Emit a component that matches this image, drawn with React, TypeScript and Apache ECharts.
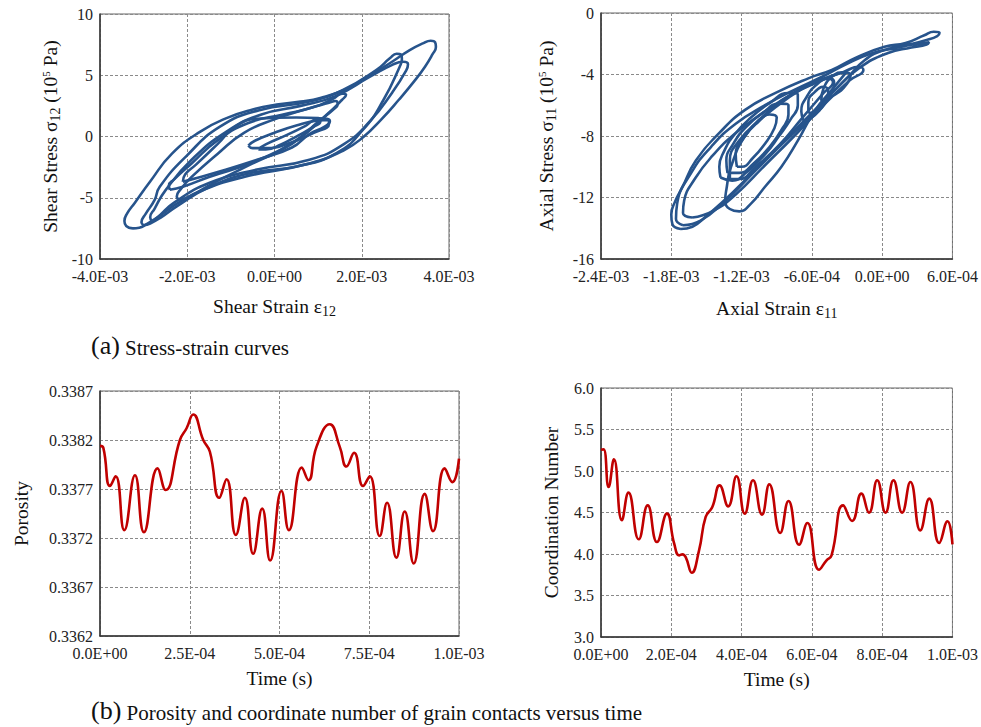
import React, { useEffect, useRef } from 'react';
import * as echarts from 'echarts';

const FONT = '"Liberation Serif", "Times New Roman", serif';
const BLUE = '#27548c';
const RED = '#c00000';
const STRAIN_UNIT = 1e-3; // loop strains below are written in units of 1E-03

// ---------- (a) shear stress-strain loops: [strain (1E-03), stress (1E5 Pa)] ----------
const shearLoop1 = [[-3.25,-7.5],[-3.4,-7.3],[-3.44,-6.9],[-3.38,-6.3],[-3.2,-5.4],[-2.85,-3.67],[-2.35,-1.4],[-1.7,0.4],[-1.1,1.5],[-0.5,2.2],[0.05,2.6],[0.6,2.85],[1.05,3.15],[1.6,3.8],[2.1,4.8],[2.65,6.0],[3.1,7.05],[3.4,7.6],[3.58,7.82],[3.68,7.7],[3.7,7.3],[3.62,6.7],[3.45,5.7],[3.2,4.5],[2.85,3.0],[2.45,1.4],[2.05,0.0],[1.6,-1.1],[0.8,-2.2],[-0.7,-3.3],[-1.6,-4.3],[-2.2,-5.4],[-2.6,-6.4],[-2.95,-7.2],[-3.1,-7.45],[-3.25,-7.5]];
const shearLoop2 = [[-3.0,-7.25],[-3.05,-7.0],[-2.95,-6.3],[-2.75,-5.2],[-2.63,-4.1],[-2.02,-1.6],[-1.25,0.8],[-0.35,2.15],[0.8,2.85],[1.57,3.8],[2.34,5.45],[2.65,6.4],[2.8,6.75],[2.9,6.7],[2.92,6.3],[2.87,5.7],[2.5,3.0],[2.03,0.55],[1.42,-1.35],[0.5,-2.45],[-0.56,-3.0],[-1.48,-4.1],[-2.24,-5.7],[-2.6,-6.6],[-2.85,-7.1],[-3.0,-7.25]];
const shearLoop3 = [[-2.8,-6.95],[-2.85,-6.6],[-2.75,-5.9],[-2.5,-4.4],[-1.9,-1.9],[-1.1,0.4],[-0.3,1.8],[0.6,2.5],[1.4,3.3],[2.2,4.9],[2.7,5.85],[2.95,6.1],[3.06,5.9],[3.02,5.4],[2.7,3.6],[2.2,1.3],[1.6,-0.6],[0.8,-1.9],[-0.4,-2.7],[-1.5,-3.8],[-2.3,-5.4],[-2.65,-6.5],[-2.8,-6.95]];
const shearLoop4 = [[-2.4,-4.35],[-2.42,-4.0],[-2.3,-3.5],[-1.9,-2.2],[-1.3,-0.3],[-0.6,1.1],[0.2,1.8],[0.9,2.4],[1.35,3.1],[1.55,3.5],[1.64,3.4],[1.55,3.0],[1.2,1.8],[0.5,-0.3],[-0.5,-2.1],[-1.5,-3.3],[-2.1,-4.1],[-2.4,-4.35]];
const shearLoop5 = [[-2.17,-5.2],[-2.24,-4.9],[-2.15,-4.3],[-1.9,-3.3],[-1.3,-1.4],[-0.7,0.3],[0.0,1.4],[0.8,2.3],[1.25,2.75],[1.4,2.9],[1.45,2.65],[1.35,2.2],[1.0,1.2],[0.4,-0.6],[-0.5,-2.2],[-1.4,-3.8],[-1.9,-4.8],[-2.17,-5.2]];
const shearLoop6 = [[-2.1,-3.7],[-2.05,-3.1],[-1.8,-2.3],[-1.3,-0.6],[-0.9,0.8],[-0.4,1.45],[0.5,1.55],[1.0,1.5],[1.27,1.25],[1.15,0.8],[0.8,0.2],[0.4,-0.9],[-0.4,-1.9],[-1.3,-2.9],[-1.9,-3.5],[-2.1,-3.7]];
const shearLoop7 = [[-0.6,-0.75],[-0.45,-0.35],[0.0,0.3],[0.5,0.9],[1.0,1.3],[1.25,1.35],[1.25,1.05],[0.9,0.3],[0.3,-0.6],[-0.2,-0.95],[-0.5,-0.95],[-0.6,-0.75]];
const shearLoop8 = [[-0.37,-1.05],[-0.2,-0.65],[0.3,0.15],[0.7,0.85],[0.98,1.4],[1.05,1.2],[0.9,0.8],[0.55,0.1],[0.15,-0.65],[-0.2,-1.05],[-0.37,-1.05]];
const shearLoops = [shearLoop1, shearLoop2, shearLoop3, shearLoop4, shearLoop5, shearLoop6, shearLoop7, shearLoop8];

// ---------- (a) axial stress-strain loops: [strain (1E-03), stress (1E5 Pa)] ----------
const axialLoop1 = [[-1.72,-14.05],[-1.79,-13.75],[-1.8,-13.1],[-1.77,-12.3],[-1.71,-11.4],[-1.59,-9.6],[-1.39,-7.8],[-1.17,-6.3],[-0.91,-5.2],[-0.63,-4.25],[-0.43,-3.7],[-0.21,-2.85],[0.02,-2.2],[0.2,-1.95],[0.36,-1.45],[0.44,-1.22],[0.49,-1.28],[0.47,-1.5],[0.38,-1.75],[0.2,-2.1],[0.0,-2.45],[-0.15,-3.07],[-0.29,-4.15],[-0.43,-5.2],[-0.6,-6.5],[-0.77,-7.8],[-1.0,-9.56],[-1.28,-11.7],[-1.5,-13.2],[-1.62,-13.9],[-1.72,-14.05]];
const axialLoop2 = [[-1.7,-13.8],[-1.76,-13.4],[-1.75,-12.4],[-1.63,-10.4],[-1.46,-8.7],[-1.25,-7.2],[-1.0,-6.0],[-0.75,-5.0],[-0.5,-4.1],[-0.3,-3.3],[-0.1,-2.65],[0.1,-2.3],[0.3,-2.0],[0.4,-1.9],[0.38,-2.05],[0.25,-2.25],[0.05,-2.6],[-0.2,-3.6],[-0.4,-5.0],[-0.62,-6.8],[-0.85,-8.5],[-1.1,-10.4],[-1.35,-12.3],[-1.55,-13.5],[-1.7,-13.8]];
const axialLoop3 = [[-1.62,-13.3],[-1.7,-13.0],[-1.69,-12.2],[-1.6,-10.8],[-1.45,-9.3],[-1.25,-7.8],[-1.0,-6.4],[-0.75,-5.2],[-0.52,-4.4],[-0.32,-3.8],[-0.2,-3.5],[-0.16,-3.7],[-0.28,-4.4],[-0.5,-6.0],[-0.75,-8.0],[-1.0,-9.9],[-1.25,-11.8],[-1.45,-12.9],[-1.62,-13.3]];
const axialLoop4 = [[-0.3,-3.8],[-0.43,-5.0],[-0.57,-6.3],[-0.72,-8.3],[-0.86,-10.0],[-1.0,-11.3],[-1.12,-12.4],[-1.22,-12.9],[-1.3,-12.75],[-1.34,-12.2],[-1.33,-11.5],[-1.29,-10.0],[-1.17,-8.0],[-1.0,-6.6],[-0.8,-5.4],[-0.55,-4.4],[-0.3,-3.8]];
const axialLoop5 = [[-1.38,-10.7],[-1.39,-10.0],[-1.35,-9.0],[-1.26,-7.9],[-1.12,-6.8],[-0.95,-5.8],[-0.8,-5.2],[-0.72,-5.3],[-0.72,-6.0],[-0.78,-6.9],[-0.88,-8.0],[-1.0,-9.2],[-1.15,-10.3],[-1.28,-10.9],[-1.38,-10.7]];
const axialLoop6 = [[-1.32,-10.4],[-1.33,-9.6],[-1.27,-8.5],[-1.16,-7.4],[-1.02,-6.5],[-0.88,-5.9],[-0.8,-6.0],[-0.8,-6.6],[-0.86,-7.6],[-0.96,-8.7],[-1.1,-9.8],[-1.22,-10.4],[-1.32,-10.4]];
const axialLoop7 = [[-1.24,-10.0],[-1.25,-9.2],[-1.18,-8.1],[-1.06,-7.1],[-0.96,-6.6],[-0.9,-6.8],[-0.92,-7.5],[-1.0,-8.5],[-1.1,-9.4],[-1.2,-10.0],[-1.24,-10.0]];
const axialLoop8 = [[-1.3,-10.8],[-1.3,-9.6],[-1.22,-8.3],[-1.05,-7.0],[-0.8,-5.5],[-0.6,-4.6],[-0.46,-4.25],[-0.42,-4.5],[-0.5,-5.2],[-0.68,-6.8],[-0.88,-8.6],[-1.08,-10.0],[-1.22,-10.8],[-1.3,-10.8]];
const axialLoop9 = [[-0.67,-7.0],[-0.69,-6.4],[-0.64,-5.4],[-0.55,-4.6],[-0.46,-4.25],[-0.41,-4.5],[-0.44,-5.3],[-0.52,-6.2],[-0.62,-6.9],[-0.67,-7.0]];
const axialLoop10 = [[-0.63,-6.5],[-0.63,-5.8],[-0.57,-5.1],[-0.5,-4.8],[-0.46,-5.1],[-0.49,-5.8],[-0.56,-6.4],[-0.63,-6.5]];
const axialLoop11 = [[-0.52,-5.7],[-0.5,-4.9],[-0.42,-4.1],[-0.33,-3.85],[-0.27,-4.05],[-0.3,-4.6],[-0.4,-5.3],[-0.52,-5.7]];
const axialLoops = [axialLoop1, axialLoop2, axialLoop3, axialLoop4, axialLoop5, axialLoop6, axialLoop7, axialLoop8, axialLoop9, axialLoop10, axialLoop11];

// ---------- (b) porosity vs time ----------
const porosityTime = [0, 9.3e-6, 2.78e-5, 4.36e-5, 6.77e-5, 9.74e-5, 1.224e-4, 1.605e-4, 1.827e-4, 2.226e-4, 2.412e-4, 2.597e-4, 2.876e-4, 3.061e-4, 3.321e-4, 3.525e-4, 3.785e-4, 4.035e-4, 4.267e-4, 4.518e-4, 4.74e-4, 5.056e-4, 5.26e-4, 5.622e-4, 5.807e-4, 6.03e-4, 6.401e-4, 6.679e-4, 6.865e-4, 7.078e-4, 7.328e-4, 7.514e-4, 7.792e-4, 7.996e-4, 8.256e-4, 8.488e-4, 8.738e-4, 9.045e-4, 9.276e-4, 9.601e-4, 9.814e-4, 1.0e-3];
const porosityValue = [0.33814, 0.33812, 0.33773, 0.33783, 0.33728, 0.33784, 0.33726, 0.33791, 0.33769, 0.3382, 0.33832, 0.33846, 0.3382, 0.33808, 0.33761, 0.3378, 0.33723, 0.33761, 0.33704, 0.3375, 0.33697, 0.33768, 0.33728, 0.33792, 0.33779, 0.33813, 0.33836, 0.33813, 0.33793, 0.33807, 0.33773, 0.33783, 0.33722, 0.33756, 0.337, 0.33747, 0.33694, 0.33765, 0.33727, 0.33791, 0.33777, 0.33801];
const porosityTicks = ['0.3362', '0.3367', '0.3372', '0.3377', '0.3382', '0.3387'];

// ---------- (b) coordination number vs time ----------
const coordTime = [0, 7.5e-6, 2.17e-5, 3.68e-5, 5.94e-5, 7.82e-5, 1.074e-4, 1.329e-4, 1.593e-4, 1.876e-4, 2.083e-4, 2.224e-4, 2.319e-4, 2.413e-4, 2.582e-4, 2.79e-4, 2.978e-4, 3.167e-4, 3.374e-4, 3.619e-4, 3.855e-4, 4.09e-4, 4.326e-4, 4.581e-4, 4.788e-4, 5.099e-4, 5.335e-4, 5.636e-4, 5.872e-4, 6.202e-4, 6.418e-4, 6.56e-4, 6.89e-4, 7.144e-4, 7.408e-4, 7.625e-4, 7.86e-4, 8.096e-4, 8.322e-4, 8.567e-4, 8.803e-4, 9.086e-4, 9.34e-4, 9.623e-4, 9.859e-4, 1.0e-3];
const coordValue = [5.257, 5.261, 4.807, 5.141, 4.406, 4.739, 4.177, 4.586, 4.145, 4.486, 4.124, 3.984, 3.996, 3.96, 3.775, 4.044, 4.446, 4.566, 4.827, 4.574, 4.936, 4.486, 4.888, 4.474, 4.839, 4.253, 4.639, 4.112, 4.373, 3.811, 3.924, 3.984, 4.586, 4.398, 4.727, 4.498, 4.888, 4.498, 4.888, 4.498, 4.867, 4.285, 4.667, 4.133, 4.394, 4.116];

const fmtE = (v: number) => {
  if (Math.abs(v) < 1e-12) return '0.0E+00';
  const [m, e] = v.toExponential(1).split('e');
  const n = parseInt(e, 10);
  return `${m}E${n < 0 ? '-' : '+'}${String(Math.abs(n)).padStart(2, '0')}`;
};

const tickFont = { fontFamily: FONT, fontSize: 16, color: '#222' };
const splitDash = { show: true, lineStyle: { color: '#8a8a8a', type: [3, 2], width: 1 } };
const axisLineStyle = { show: true, onZero: false, lineStyle: { color: '#333', width: 1.5 } };
const nameRich = {
  a: { fontFamily: FONT, fontSize: 19.5, color: '#111', lineHeight: 22, verticalAlign: 'top' },
  s: { fontFamily: FONT, fontSize: 14, color: '#111', lineHeight: 14, padding: [11, 0, 0, 0], verticalAlign: 'bottom' },
  p: { fontFamily: FONT, fontSize: 11, color: '#111', lineHeight: 11, verticalAlign: 'top' },
};
const plainName = { fontFamily: FONT, fontSize: 19.5, color: '#111' };

const xBase = (gridIndex: number, min: number, max: number, interval: number, name: string, nameGap: number, rich: boolean) => ({
  type: 'value', gridIndex, min, max, interval, name, nameGap, nameLocation: 'middle',
  nameTextStyle: rich ? { ...plainName, rich: nameRich } : plainName,
  axisLine: axisLineStyle, axisTick: { show: false },
  axisLabel: { ...tickFont, margin: 9, formatter: fmtE, showMinLabel: true, showMaxLabel: true },
  splitLine: splitDash,
});

const yBase = (gridIndex: number, min: number, max: number, interval: number, name: string, nameGap: number, rich: boolean, formatter?: any) => ({
  type: 'value', gridIndex, min, max, interval, name, nameGap, nameLocation: 'middle', position: 'left',
  nameTextStyle: rich ? { ...plainName, rich: nameRich } : plainName,
  axisLine: axisLineStyle, axisTick: { show: false },
  axisLabel: { ...tickFont, margin: 7, formatter, showMinLabel: true, showMaxLabel: true },
  splitLine: splitDash,
});

const loopSeries = (loops: number[][][], axisIndex: number) =>
  loops.map((loop) => ({
    type: 'line', xAxisIndex: axisIndex, yAxisIndex: axisIndex,
    data: loop.map(([x, y]) => [x * STRAIN_UNIT, y]),
    showSymbol: false, symbol: 'none', smooth: 0.5, silent: true,
    lineStyle: { color: BLUE, width: 2.6 },
  }));

const captionRich = {
  a: { fontFamily: FONT, fontSize: 26, fill: '#111', lineHeight: 30, verticalAlign: 'bottom' },
  b: { fontFamily: FONT, fontSize: 21, fill: '#111', lineHeight: 26, verticalAlign: 'bottom' },
};

const option: any = {
  animation: false,
  backgroundColor: '#fff',
  grid: [
    { left: 100, top: 14, width: 349, height: 245, show: true, borderColor: '#666', borderWidth: 1 },
    { left: 601, top: 13, width: 354, height: 246, show: true, borderColor: '#666', borderWidth: 1 },
    { left: 100, top: 391, width: 359, height: 245, show: true, borderColor: '#666', borderWidth: 1 },
    { left: 601, top: 388, width: 354, height: 249, show: true, borderColor: '#666', borderWidth: 1 },
  ],
  xAxis: [
    xBase(0, -0.004, 0.004, 0.002, '{a|Shear Strain ε}{s|12}', 37, true),
    xBase(1, -0.0024, 0.0006, 0.0006, '{a|Axial Strain ε}{s|11}', 39, true),
    xBase(2, 0, 0.001, 0.00025, 'Time (s)', 32, false),
    xBase(3, 0, 0.001, 0.0002, 'Time (s)', 32, false),
  ],
  yAxis: [
    yBase(0, -10, 10, 5, '{a|Shear Stress σ}{s|12}{a| (10}{p|5}{a| Pa)}', 38, true),
    yBase(1, -16, 0, 4, '{a|Axial Stress σ}{s|11}{a| (10}{p|5}{a| Pa)}', 43, true),
    { type: 'value', gridIndex: 2, min: 0.3362, max: 0.3387, position: 'left', show: false },
    yBase(3, 3, 6, 0.5, 'Coordination Number', 40, false, (v: number) => v.toFixed(1)),
    yBase(2, 0, 5, 1, 'Porosity', 69, false, (v: number) => porosityTicks[v]),
  ],
  graphic: [
    { type: 'text', left: 91, top: 332, style: { text: '{a|(a)}{b| Stress-strain curves}', rich: captionRich } },
    { type: 'text', left: 91, top: 697, style: { text: '{a|(b)}{b| Porosity and coordinate number of grain contacts versus time}', rich: captionRich } },
  ],
  series: [
    ...loopSeries(shearLoops, 0),
    ...loopSeries(axialLoops, 1),
    {
      type: 'line', xAxisIndex: 2, yAxisIndex: 2,
      data: porosityTime.map((t, i) => [t, porosityValue[i]]),
      showSymbol: false, symbol: 'none', smooth: 0.5, silent: true,
      lineStyle: { color: RED, width: 2.6 },
    },
    {
      type: 'line', xAxisIndex: 3, yAxisIndex: 3,
      data: coordTime.map((t, i) => [t, coordValue[i]]),
      showSymbol: false, symbol: 'none', smooth: 0.5, silent: true,
      lineStyle: { color: RED, width: 2.6 },
    },
  ],
};

export default function App() {
  const ref = useRef<HTMLDivElement>(null);
  useEffect(() => {
    const chart = echarts.init(ref.current!, undefined, { renderer: 'svg' });
    chart.setOption(option);
    return () => chart.dispose();
  }, []);
  return (
    <div
      ref={ref}
      style={{ position: 'absolute', left: 0, top: 0, width: 981, height: 727, background: '#fff' }}
    />
  );
}
